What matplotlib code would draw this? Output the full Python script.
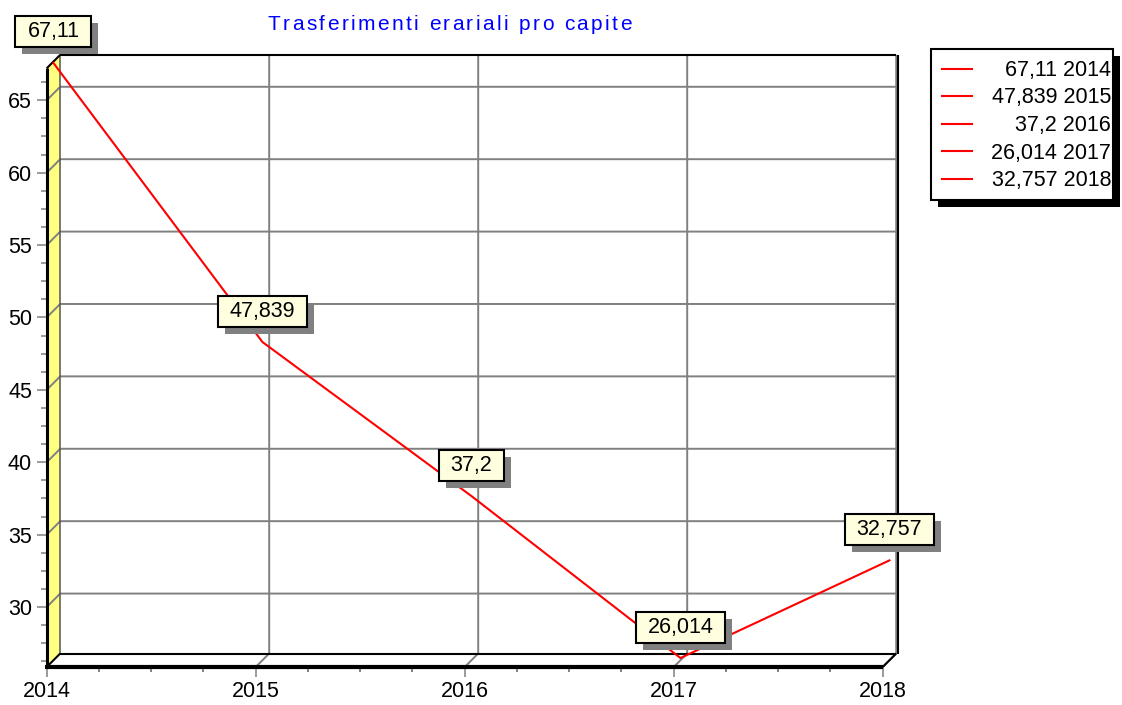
import matplotlib
matplotlib.use('Agg')
import matplotlib.pyplot as plt
import numpy as np
from matplotlib.transforms import ScaledTranslation, IdentityTransform
from matplotlib.patches import Polygon, Rectangle
from matplotlib.lines import Line2D
from matplotlib.path import Path
from matplotlib import font_manager
from matplotlib.ft2font import FT2Font

# ---------------- data ----------------
years = [2014, 2015, 2016, 2017, 2018]
values = [67.11, 47.839, 37.2, 26.014, 32.757]
title = "Trasferimenti erariali pro capite"
y_major = [30, 35, 40, 45, 50, 55, 60, 65]
y_lim = (25.86, 67.21)


def fmt(v):
    return str(v).replace('.', ',')


plt.rcParams['font.family'] = ['Liberation Sans', 'DejaVu Sans']

W, H = 1122, 705
DPI = 100
fig = plt.figure(figsize=(W / DPI, H / DPI), dpi=DPI)
fig.patch.set_facecolor('white')

FS = 15.5  # general font size

# front plane of the 3D box in pixels
x0p, x1p = 46.7, 882.7
ybot, ytop = 667.0, 68.3
D = 13.5  # depth in pixels

ax = fig.add_axes([x0p / W, 1 - ybot / H, (x1p - x0p) / W, (ybot - ytop) / H])
ax.set_xlim(years[0], years[-1])
ax.set_ylim(*y_lim)
ax.patch.set_visible(False)
for s in ax.spines.values():
    s.set_visible(False)

ylo, yhi = y_lim
xl, xr = years[0], years[-1]


def P(x, y, d=0.0, dx=0.0):
    px, py = ax.transData.transform((x, y))
    return (px + d + dx, py + d)


def seg(pts, color, lw, z, **kw):
    xs = [p[0] for p in pts]
    ys = [p[1] for p in pts]
    ln = Line2D(xs, ys, color=color, lw=lw, transform=IdentityTransform(),
                zorder=z, clip_on=False, solid_capstyle='butt', **kw)
    ax.add_artist(ln)


GRID = '#808080'

# left wall (yellow)
wall = Polygon([P(xl, ylo), P(xl, ylo, D), P(xl, yhi, D), P(xl, yhi)],
               closed=True, facecolor='#FFFF80', edgecolor='none',
               transform=IdentityTransform(), zorder=0.5, clip_on=False)
ax.add_artist(wall)

# horizontal gridlines (left wall diagonal + back wall)
for yv in y_major:
    seg([P(xl, yv), P(xl, yv, D), P(xr, yv, D)], GRID, 1.4, 1)
# vertical gridlines (floor diagonal + back wall)
for xv in years[1:]:
    seg([P(xv, ylo), P(xv, ylo, D), P(xv, yhi, D)], GRID, 1.4, 1)

# frame
seg([P(xl, ylo, D), P(xl, yhi, D)], '#555555', 1.1, 1.6)
seg([P(xl, ylo, D), P(xr, ylo, D)], 'black', 1.5, 2)
seg([P(xl, yhi, D), P(xr, yhi, D)], 'black', 1.5, 2)
seg([P(xr, ylo, D, 1.5), P(xr, yhi, D, 1.5)], 'black', 1.5, 2)
seg([P(xr, ylo), P(xr, ylo, D)], 'black', 1.5, 2)
seg([P(xl, ylo), P(xl, ylo, D)], 'black', 1.5, 2)
seg([P(xl, yhi), P(xl, yhi, D)], 'black', 1.5, 2)
seg([P(xl, ylo), P(xl, yhi)], 'black', 2.2, 2.1)
seg([P(xl, ylo, 0, -1.5), P(xr, ylo)], 'black', 3.0, 2.2)

# ticks
ax.set_xticks(years)
ax.set_xticklabels([str(y) for y in years])
ax.set_xticks(np.arange(xl, xr + 0.001, 0.25), minor=True)
ax.set_yticks(y_major)
ax.set_yticklabels([str(v) for v in y_major])
ax.set_yticks(np.arange(26.25, yhi, 1.25), minor=True)
ax.tick_params(axis='both', which='both', color=GRID, width=1.1,
               labelsize=FS, labelcolor='black', direction='out')
ax.tick_params(axis='y', which='major', length=7.2, pad=3.4)
ax.tick_params(axis='y', which='minor', length=4.3)
ax.tick_params(axis='x', which='major', length=7.2, pad=2.6)
ax.tick_params(axis='x', which='minor', length=3.6, color='#606060')

# series line at mid depth
mid = ax.transData + ScaledTranslation(D / 2 / DPI, D / 2 / DPI, fig.dpi_scale_trans)
ax.plot(years, values, color='red', lw=1.5, transform=mid, zorder=3, clip_on=False)


# labels
def box_style(x0, y0, width, height, mutation_size, padx=12.0, h=31.0):
    cy = y0 + height / 2
    verts = [(x0 - padx, cy - h / 2), (x0 + width + padx, cy - h / 2),
             (x0 + width + padx, cy + h / 2), (x0 - padx, cy + h / 2),
             (x0 - padx, cy - h / 2)]
    return Path(verts, closed=True)


lab_tr = ax.transData + ScaledTranslation(D / 2 / DPI, (D / 2 + 31) / DPI, fig.dpi_scale_trans)
sh_tr = ax.transData + ScaledTranslation((D / 2 + 7) / DPI, (D / 2 + 24) / DPI, fig.dpi_scale_trans)
for x, v in zip(years, values):
    ax.text(x, v, fmt(v), transform=sh_tr, ha='center', va='center', fontsize=FS,
            color=(0, 0, 0, 0), zorder=4, clip_on=False,
            bbox=dict(boxstyle=box_style, facecolor='#808080', edgecolor='none'))
    ax.text(x, v, fmt(v), transform=lab_tr, ha='center', va='center', fontsize=FS,
            color='black', zorder=5, clip_on=False,
            bbox=dict(boxstyle=box_style, facecolor='#FFFFE0', edgecolor='black', lw=1.5))


def F(xp, yp):
    return (xp / W, 1 - yp / H)


# legend
fig.add_artist(Rectangle(F(938, 207), 182 / W, 151 / H, transform=fig.transFigure,
                         facecolor='black', edgecolor='none', zorder=5))
fig.add_artist(Rectangle(F(931, 200), 182 / W, 151 / H, transform=fig.transFigure,
                         facecolor='white', edgecolor='black', lw=1.5, zorder=6))
for i, (x, v) in enumerate(zip(years, values)):
    yrow = 68.5 + i * 27.6
    fig.add_artist(Line2D([942 / W, 972 / W], [1 - yrow / H] * 2, color='red', lw=1.5,
                          transform=fig.transFigure, zorder=7))
    fig.text(1111 / W, 1 - (yrow + 1.8) / H, f"{fmt(v)} {x}", ha='right', va='center',
             fontsize=FS, color='black', zorder=7)

# title with letter spacing
tsize = 15.0
fpath = font_manager.findfont(font_manager.FontProperties(family='Liberation Sans'))
ft = FT2Font(fpath)
ft.set_size(tsize, DPI)
advs = []
for c in title:
    g = ft.load_char(ord(c))
    advs.append(g.linearHoriAdvance / 65536.0)
t_left, t_right = 268.0, 629.0
natural = sum(advs[:-1]) + advs[-1] * 0.8
spacing = (t_right - t_left - natural) / (len(title) - 1)
xc = t_left
for c, a in zip(title, advs):
    if c != ' ':
        fig.text(xc / W, 1 - 30 / H, c, ha='left', va='baseline', fontsize=tsize,
                 color='#0000FF')
    xc += a + spacing

fig.savefig('out.png', dpi=DPI, facecolor='white')
